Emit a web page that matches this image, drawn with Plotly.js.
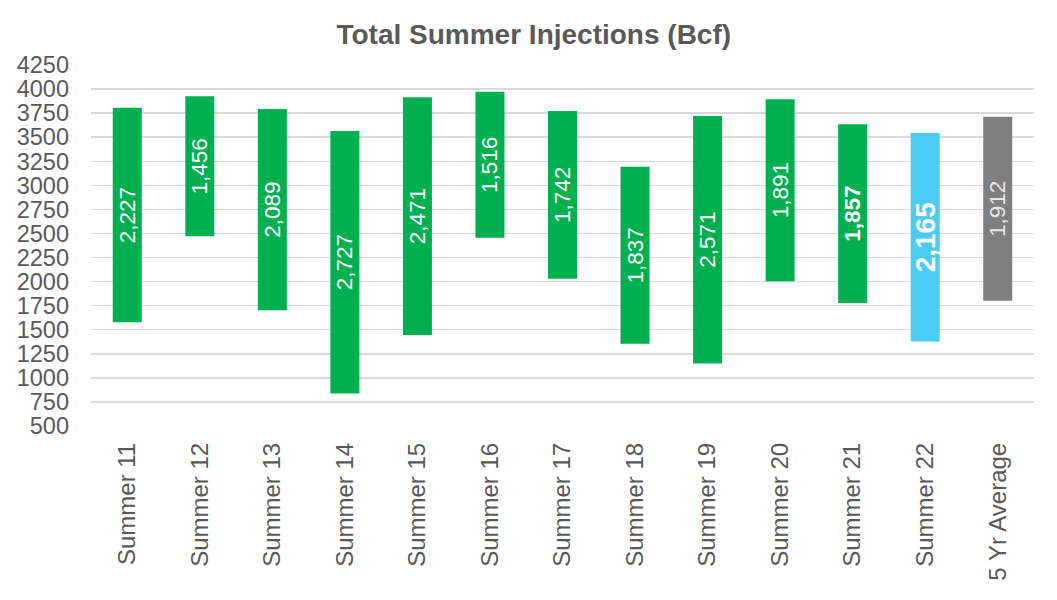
<!DOCTYPE html>
<html>
<head>
<meta charset="utf-8">
<script src="https://cdn.plot.ly/plotly-3.0.1.min.js"></script>
<style>
  html, body { margin: 0; padding: 0; background: #fff; }
  #chart { width: 1057px; height: 600px; }
</style>
</head>
<body>
<div id="chart"></div>
<script>
// categories and values (Bcf)
const seasons = ['Summer 11', 'Summer 12', 'Summer 13', 'Summer 14', 'Summer 15', 'Summer 16',
    'Summer 17', 'Summer 18', 'Summer 19', 'Summer 20', 'Summer 21', 'Summer 22', '5 Yr Average'];
// storage level at start of summer
const startLevel = [1578, 2470, 1703, 838, 1445, 2455, 2030, 1355, 1150, 2004, 1777, 1378, 1800];
// total injections (labels)
const injections = [2227, 1456, 2089, 2727, 2471, 1516, 1742, 1837, 2571, 1891, 1857, 2165, 1912];

const green = '#00B050';
const blue = '#4BCCF5';
const grey = '#7F7F7F';

const barColors = seasons.map(s => {
    if (s === '5 Yr Average') return grey;
    if (s === 'Summer 22') return blue;
    return green;
});

const labelSizes = seasons.map(s => s === 'Summer 22' ? 28 : 22.5);
const labelColors = seasons.map(s => s === '5 Yr Average' ? '#E6E6E6' : '#FFFFFF');
const labelText = injections.map((v, i) => {
    const t = v.toLocaleString('en-US');
    return (seasons[i] === 'Summer 21' || seasons[i] === 'Summer 22') ? '<b>' + t + '</b>' : t;
});

const trace = {
    type: 'bar',
    x: seasons,
    y: injections,
    base: startLevel,
    marker: { color: barColors },
    text: labelText,
    texttemplate: '%{text}',
    textposition: 'inside',
    insidetextanchor: 'middle',
    textangle: -90,
    constraintext: 'none',
    insidetextfont: { family: 'Liberation Sans, Arial, sans-serif', size: labelSizes, color: labelColors },
    hoverinfo: 'x+y'
};

const layout = {
    width: 1057,
    height: 600,
    margin: { l: 91, r: 23, t: 65, b: 174 },
    paper_bgcolor: '#ffffff',
    plot_bgcolor: '#ffffff',
    font: { family: 'Liberation Sans, Arial, sans-serif', color: '#595959' },
    title: {
        text: '<b>Total Summer Injections (Bcf)</b>',
        font: { size: 28, color: '#595959' },
        x: 0.505,
        xanchor: 'center',
        y: 0.943,
        yanchor: 'middle'
    },
    bargap: 0.6,
    showlegend: false,
    xaxis: {
        type: 'category',
        tickangle: -90,
        tickfont: { size: 24, color: '#595959' },
        showgrid: false,
        showline: false,
        ticks: '',
        ticklabelstandoff: 11
    },
    yaxis: {
        range: [500, 4250],
        dtick: 250,
        tick0: 500,
        tickfont: { size: 23.5, color: '#595959' },
        showgrid: true,
        gridcolor: '#D9D9D9',
        gridwidth: 1.5,
        zeroline: false,
        showline: false,
        ticks: '',
        ticklabelstandoff: 21
    }
};

Plotly.newPlot('chart', [trace], layout, { displayModeBar: false, staticPlot: true });
</script>
</body>
</html>
